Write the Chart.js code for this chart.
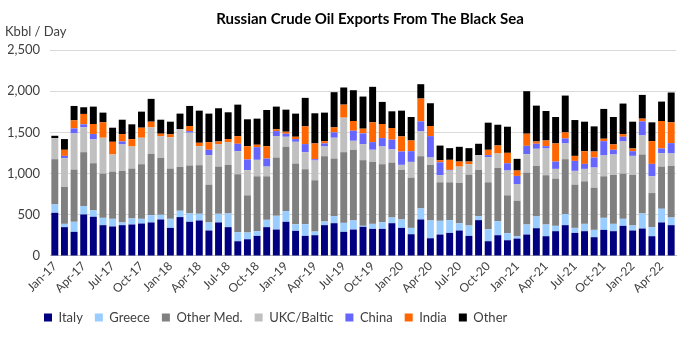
<!DOCTYPE html>
<html>
<head>
<meta charset="utf-8">
<script src="https://cdn.jsdelivr.net/npm/chart.js@4"></script>
<style>
  html, body { margin: 0; padding: 0; background: #fff; }
  #wrap { width: 691px; height: 345px; position: relative; }
</style>
</head>
<body>
<div id="wrap"><canvas id="chart"></canvas></div>
<script>
// months Jan-17 .. May-22
const monthNames = ['Jan', 'Feb', 'Mar', 'Apr', 'May', 'Jun', 'Jul', 'Aug', 'Sep', 'Oct', 'Nov', 'Dec'];
const months = [];
for (let y = 17; y <= 22; y++) {
    for (let m = 0; m < 12; m++) {
        if (y === 22 && m > 4) break;
        months.push(monthNames[m] + '-' + y);
    }
}

const italy = [524, 350, 293, 504, 476, 374, 358, 374, 382, 394, 407, 443, 341, 472, 415, 431, 309, 407, 350, 179,
    203, 244, 350, 321, 415, 305, 244, 252, 374, 398, 293, 321, 354, 329, 329, 398, 341, 264, 443, 215,
    260, 280, 309, 244, 435, 179, 252, 191, 211, 260, 337, 240, 301, 374, 280, 301, 228, 317, 301, 366,
    309, 333, 240, 407, 374];
const greece = [102, 40, 122, 102, 77, 89, 93, 33, 73, 57, 89, 57, 110, 77, 101, 81, 98, 105, 166, 110,
    82, 57, 89, 167, 130, 81, 142, 45, 45, 86, 109, 110, 12, 61, 82, 69, 102, 77, 134, 216,
    167, 155, 89, 126, 49, 146, 171, 85, 29, 122, 143, 142, 65, 134, 61, 89, 89, 146, 89, 85,
    61, 183, 110, 166, 93];
const otherMed = [549, 447, 634, 654, 573, 537, 573, 626, 606, 663, 744, 691, 610, 532, 582, 590, 459, 573, 590, 703,
    451, 666, 528, 707, 780, 736, 667, 622, 792, 699, 858, 858, 797, 752, 703, 667, 602, 610, 634, 675,
    467, 459, 488, 618, 561, 569, 646, 460, 431, 630, 613, 598, 573, 667, 525, 516, 512, 504, 594, 549,
    614, 716, 414, 512, 626];
const ukcBaltic = [256, 350, 439, 301, 289, 435, 208, 321, 268, 321, 321, 264, 378, 460, 398, 231, 358, 273, 276, 280,
    305, 200, 118, 260, 122, 264, 207, 240, 118, 252, 419, 109, 195, 147, 215, 159, 61, 191, 301, 89,
    85, 143, 199, 126, 179, 305, 175, 301, 203, 224, 208, 325, 118, 191, 167, 151, 244, 253, 248, 390,
    231, 231, 203, 163, 151];
const china = [0, 28, 61, 37, 65, 0, 0, 36, 0, 0, 0, 0, 0, 0, 20, 0, 65, 0, 0, 90,
    130, 154, 98, 61, 37, 33, 98, 16, 37, 65, 0, 122, 130, 93, 102, 118, 162, 130, 122, 260,
    158, 8, 0, 0, 0, 25, 0, 89, 98, 101, 61, 28, 89, 61, 121, 61, 122, 174, 57, 57,
    57, 171, 151, 57, 126];
const india = [0, 74, 97, 126, 122, 187, 154, 90, 90, 122, 69, 29, 37, 0, 61, 41, 93, 32, 37, 93,
    162, 29, 150, 21, 24, 28, 215, 191, 28, 61, 158, 118, 57, 240, 171, 142, 183, 130, 277, 122,
    25, 122, 61, 32, 0, 65, 97, 126, 65, 147, 28, 69, 220, 73, 61, 154, 73, 29, 65, 33,
    33, 33, 276, 333, 252];
const other = [28, 130, 175, 81, 211, 118, 171, 174, 179, 195, 277, 170, 154, 187, 244, 390, 346, 403, 325, 382,
    326, 317, 439, 276, 268, 281, 346, 366, 346, 427, 208, 374, 390, 431, 268, 203, 313, 285, 174, 277,
    178, 142, 179, 163, 138, 329, 252, 317, 142, 516, 435, 358, 321, 447, 435, 358, 305, 362, 333, 370,
    325, 288, 228, 236, 362];

const seriesNames = ['Italy', 'Greece', 'Other Med.', 'UKC/Baltic', 'China', 'India', 'Other'];
const seriesColors = ['#000080', '#99ccff', '#808080', '#c0c0c0', '#6666ff', '#ff6600', '#000000'];
const seriesData = [italy, greece, otherMed, ukcBaltic, china, india, other];

const FONT = 'Lato, "Open Sans", sans-serif';
const TEXT = '#404040';

const headerText = {
    id: 'headerText',
    beforeDraw(chart) {
        // legend starts further right than the y axis labels
        if (chart.legend) chart.legend.left = 32;
    },
    afterDraw(chart) {
        const ctx = chart.ctx;
        ctx.save();
        ctx.fillStyle = '#000';
        ctx.font = 'bold 15px ' + FONT;
        ctx.textAlign = 'center';
        ctx.textBaseline = 'middle';
        ctx.fillText('Russian Crude Oil Exports From The Black Sea', 370, 19);
        ctx.fillStyle = TEXT;
        ctx.font = '13px ' + FONT;
        ctx.textAlign = 'left';
        ctx.fillText('Kbbl / Day', 5, 32);
        ctx.restore();
    }
};

new Chart(document.getElementById('chart'), {
    type: 'bar',
    data: {
        labels: months,
        datasets: seriesNames.map((name, i) => ({
            label: name,
            data: seriesData[i],
            backgroundColor: seriesColors[i],
            borderWidth: 0,
            barPercentage: 0.72,
            categoryPercentage: 1.0,
        })),
    },
    options: {
        responsive: true,
        maintainAspectRatio: false,
        animation: false,
        layout: {
            padding: { left: 8, right: 15, top: 50, bottom: 11 },
        },
        scales: {
            x: {
                stacked: true,
                grid: { display: false, drawTicks: false },
                border: { color: '#bfbfbf' },
                ticks: {
                    autoSkip: false,
                    maxRotation: 45,
                    minRotation: 45,
                    color: TEXT,
                    font: { family: FONT, size: 12 },
                    padding: 3,
                    callback: (v, i) => (i % 3 === 0 ? months[i] : ''),
                },
            },
            y: {
                stacked: true,
                min: 0,
                max: 2500,
                afterFit: (axis) => { axis.width = 42; },
                grid: { color: '#d9d9d9', drawTicks: false },
                border: { display: false },
                ticks: {
                    stepSize: 500,
                    padding: 10,
                    color: TEXT,
                    font: { family: FONT, size: 13 },
                    callback: (v) => v.toLocaleString('en-US'),
                },
            },
        },
        plugins: {
            legend: {
                position: 'bottom',
                align: 'start',
                labels: {
                    boxWidth: 8,
                    boxHeight: 8,
                    padding: 12,
                    color: TEXT,
                    font: { family: FONT, size: 13 },
                },
            },
            tooltip: { enabled: false },
        },
    },
    plugins: [headerText],
});
</script>
</body>
</html>
